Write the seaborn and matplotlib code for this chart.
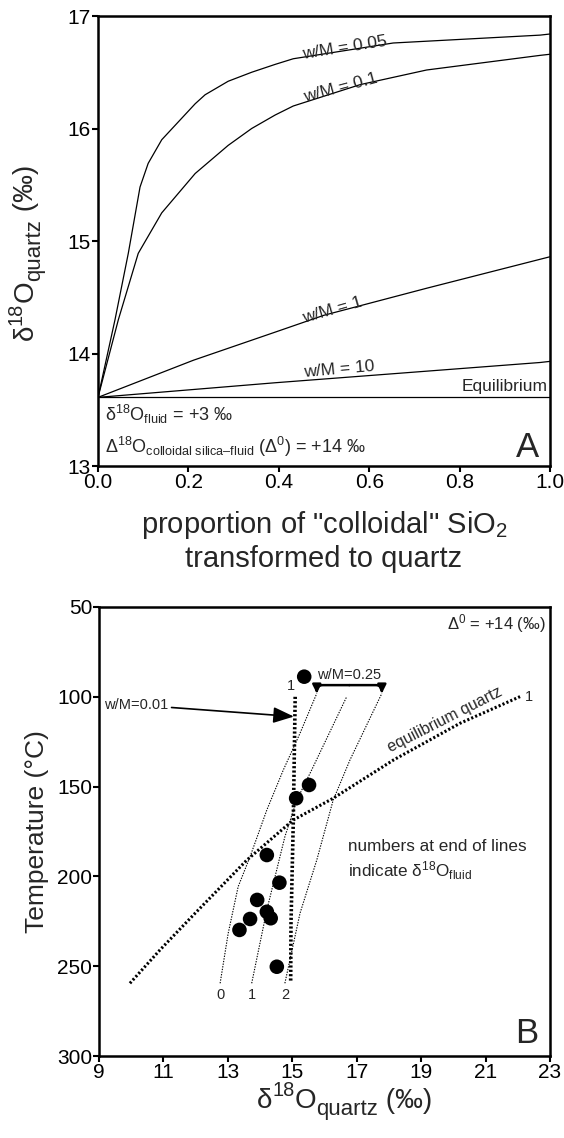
import numpy as np
import matplotlib
matplotlib.use("Agg")
import matplotlib.pyplot as plt
import seaborn as sns

# ---------------- Panel A data ----------------
prop_wm005 = [0.0, 0.0376, 0.067, 0.093, 0.111, 0.141, 0.178, 0.215, 0.237, 0.288, 0.340, 0.392,
              0.432, 0.653, 0.978, 1.0]
d18o_wm005 = [13.61, 14.30, 14.89, 15.48, 15.69, 15.90, 16.06, 16.22, 16.30, 16.42, 16.50, 16.57,
              16.62, 16.76, 16.83, 16.84]
prop_wm01 = [0.0, 0.045, 0.089, 0.141, 0.215, 0.288, 0.340, 0.392, 0.432, 0.58, 0.727, 0.978, 1.0]
d18o_wm01 = [13.61, 14.30, 14.89, 15.25, 15.60, 15.85, 16.00, 16.12, 16.20, 16.39, 16.52, 16.65, 16.66]
prop_wm1 = [0.0, 0.211, 0.392, 0.50, 0.727, 1.0]
d18o_wm1 = [13.61, 13.94, 14.19, 14.34, 14.58, 14.86]
prop_wm10 = [0.0, 0.392, 0.978, 1.0]
d18o_wm10 = [13.61, 13.74, 13.92, 13.93]
prop_eq = [0.0, 1.0]
d18o_eq = [13.61, 13.61]

# ---------------- Panel B data ----------------
sample_d18o = [15.37, 15.52, 15.12, 14.21, 14.60, 13.91, 14.21, 14.33, 13.69, 13.36, 14.52]
sample_temp = [88.8, 149.1, 156.5, 188.1, 203.5, 213.1, 219.7, 223.3, 223.7, 229.8, 250.3]

eqq_d18o = [9.96, 10.89, 11.93, 13.59, 15.03, 16.27, 18.14, 20.2, 22.07]
eqq_temp = [259.5, 241, 221.5, 190.9, 168.6, 156.5, 135.2, 114.8, 99.9]

wm001_d18o = [15.09, 15.03, 14.96, 14.95]
wm001_temp = [100, 170.3, 226.1, 258.6]

f0_d18o = [12.76, 13.01, 13.32, 13.69, 14.21, 14.72, 15.24, 15.76]
f0_temp = [259.5, 231.7, 205.7, 189.0, 163.0, 140.8, 120.3, 98.1]
f1_d18o = [13.74, 14.21, 14.77, 15.14, 15.60, 16.69]
f1_temp = [259.5, 218.7, 177.9, 157.5, 140.8, 99.9]
f2_d18o = [14.77, 15.24, 15.76, 16.27, 16.79, 17.78]
f2_temp = [259.5, 220.5, 190.9, 157.5, 135.2, 98.1]
fluid_labels = ["0", "1", "2"]

xticksA = [0.0, 0.2, 0.4, 0.6, 0.8, 1.0]
yticksA = [13, 14, 15, 16, 17]
xticksB = [9, 11, 13, 15, 17, 19, 21, 23]
yticksB = [50, 100, 150, 200, 250, 300]

sns.set_style("ticks")
plt.rcParams['font.family'] = ['Liberation Sans', 'DejaVu Sans']
plt.rcParams['mathtext.fontset'] = 'custom'
plt.rcParams['mathtext.rm'] = 'Liberation Sans'
plt.rcParams['mathtext.it'] = 'Liberation Sans:italic'
plt.rcParams['mathtext.bf'] = 'Liberation Sans:bold'

W_PX, H_PX = 564, 1138
fig = plt.figure(figsize=(W_PX / 100, H_PX / 100), dpi=100)
axA = fig.add_axes([98/W_PX, 1-466/H_PX, 452/W_PX, 450/H_PX])
axB = fig.add_axes([99/W_PX, 1-1056/H_PX, 451/W_PX, 449/H_PX])


def rich_text(x_px, y_px, pieces, fontsize, rotation=0):
    """Place a label made of pieces (text, size scale, baseline shift in em) starting at a pixel point."""
    renderer = fig.canvas.get_renderer()
    pos = 0.0
    for s, scale, shift in pieces:
        off = shift * fontsize * fig.dpi / 72.0
        if rotation == 0:
            px, py = x_px + pos, y_px - off
        else:
            px, py = x_px - off, y_px - pos
        t = fig.text(px / W_PX, 1 - py / H_PX, s, fontsize=fontsize * scale, rotation=rotation,
                     ha='left', va='baseline', rotation_mode='anchor')
        bb = t.get_window_extent(renderer)
        pos += bb.width if rotation == 0 else bb.height


for ax in (axA, axB):
    for s in ax.spines.values():
        s.set_linewidth(1.8)
        s.set_color('black')
        s.set_visible(True)
    ax.tick_params(direction='out', length=4, width=1.5, labelsize=15, colors='black', pad=1)

# ---------------- Panel A ----------------
for xs, ys in [(prop_wm005, d18o_wm005), (prop_wm01, d18o_wm01), (prop_wm1, d18o_wm1),
               (prop_wm10, d18o_wm10), (prop_eq, d18o_eq)]:
    sns.lineplot(x=xs, y=ys, ax=axA, color='black', lw=0.9, sort=False, estimator=None)

axA.set_xlim(0, 1)
axA.set_ylim(13, 17)
axA.set_xticks(xticksA)
axA.set_xticklabels([f"{v:.1f}" for v in xticksA])
axA.set_yticks(yticksA)
axA.set_ylabel('')
axA.set_xlabel('proportion of "colloidal" SiO$_2$\ntransformed to quartz', fontsize=21,
               linespacing=1.2, labelpad=12)

lab_kw = dict(fontsize=12.5, ha='center', va='bottom', rotation_mode='anchor')
axA.text(0.548, 16.65, 'w/M = 0.05', rotation=9, **lab_kw)
axA.text(0.54, 16.30, 'w/M = 0.1', rotation=15, **lab_kw)
axA.text(0.523, 14.32, 'w/M = 1', rotation=16, **lab_kw)
axA.text(0.535, 13.79, 'w/M = 10', rotation=5, **lab_kw)
axA.text(0.995, 13.64, 'Equilibrium', fontsize=12.5, ha='right', va='bottom')
axA.text(0.015, 13.46, 'δ$^{18}$O$_{\\mathrm{fluid}}$ = +3 ‰', fontsize=13, ha='left', va='center')
axA.text(0.015, 13.17, 'Δ$^{18}$O$_{\\mathrm{colloidal\\ silica–fluid}}$ (Δ$^0$) = +14 ‰',
         fontsize=13, ha='left', va='center')
axA.text(0.975, 13.08, 'A', fontsize=25, ha='right', va='baseline')

# ---------------- Panel B ----------------
for xs, ys in [(f0_d18o, f0_temp), (f1_d18o, f1_temp), (f2_d18o, f2_temp)]:
    sns.lineplot(x=xs, y=ys, ax=axB, color='black', lw=0.8, sort=False, estimator=None,
                 linestyle=(0, (1.2, 1.2)))
sns.lineplot(x=eqq_d18o, y=eqq_temp, ax=axB, color='black', lw=2.2, sort=False, estimator=None,
             linestyle=(0, (0.7, 0.7)))
sns.lineplot(x=wm001_d18o, y=wm001_temp, ax=axB, color='black', lw=2.6, sort=False, estimator=None,
             linestyle=(0, (0.6, 0.6)))
sns.scatterplot(x=sample_d18o, y=sample_temp, ax=axB, color='black', s=110, edgecolor='none', zorder=5)

for lab, xs in zip(fluid_labels, [f0_d18o, f1_d18o, f2_d18o]):
    axB.text(xs[0], 266, lab, fontsize=10.5, ha='center', va='center')

axB.text(eqq_d18o[-1] + 0.15, eqq_temp[-1], '1', fontsize=10.5, ha='left', va='center')
axB.text(wm001_d18o[0] - 0.12, 94, '1', fontsize=10.5, ha='center', va='center')

axB.text(19.85, 116.5, 'equilibrium quartz', fontsize=11.5, rotation=27, ha='center', va='bottom',
         rotation_mode='anchor')

axB.annotate('w/M=0.01', xy=(15.05, 111), xytext=(11.15, 104.5), fontsize=10.5, ha='right', va='center',
             arrowprops=dict(arrowstyle='-|>,head_length=0.9,head_width=0.35', color='black', lw=1.2,
                             mutation_scale=14, shrinkA=0, shrinkB=0))

axB.text(16.75, 88.0, 'w/M=0.25', fontsize=10.5, ha='center', va='center')
for tip in [(f0_d18o[-1], f0_temp[-1]), (f2_d18o[-1], f2_temp[-1])]:
    axB.annotate('', xy=tip, xytext=(16.77, 93.5),
                 arrowprops=dict(arrowstyle='-|>,head_length=0.5,head_width=0.25', color='black', lw=1.8,
                                 mutation_scale=10, shrinkA=0, shrinkB=0,
                                 connectionstyle='angle,angleA=180,angleB=90,rad=6'))

axB.text(22.85, 59, 'Δ$^0$ = +14 (‰)', fontsize=12, ha='right', va='center')
axB.text(16.74, 183.5, 'numbers at end of lines', fontsize=12.3, ha='left', va='center')
axB.text(16.74, 197.0, 'indicate δ$^{18}$O$_{\\mathrm{fluid}}$', fontsize=12.3, ha='left', va='center')
axB.text(22.62, 292.5, 'B', fontsize=25, ha='right', va='baseline')

axB.set_xlim(9, 23)
axB.set_ylim(300, 50)
axB.set_xticks(xticksB)
axB.set_yticks(yticksB)
axB.set_xlabel('')
axB.set_ylabel('Temperature (°C)', fontsize=19, labelpad=6)

quartz_label = [("δ", 1.0, 0.0), ("18", 0.72, 0.42), ("O", 1.0, 0.0), ("quartz", 0.8, -0.27),
                (" (‰)", 1.0, 0.0)]
rich_text(33, 340, quartz_label, 20, rotation=90)
rich_text(257, 1108, quartz_label, 20, rotation=0)

fig.savefig('out.png', dpi=100)
